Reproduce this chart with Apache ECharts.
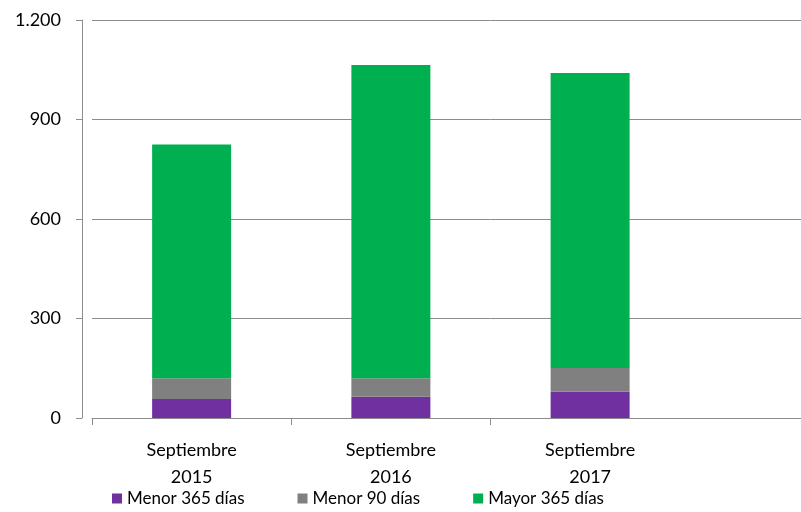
<!DOCTYPE html>
<html>
<head>
<meta charset="utf-8">
<script src="https://cdn.jsdelivr.net/npm/echarts@6/dist/echarts.min.js"></script>
<style>html,body{margin:0;padding:0;background:#fff;overflow:hidden;width:801px;height:512px;}#c{width:889px;height:512px;}</style>
</head>
<body>
<div id="c"></div>
<script>
const categories = ['Septiembre\n2015', 'Septiembre\n2016', 'Septiembre\n2017', ''];
const seriesNames = ['Menor 365 días', 'Menor 90 días', 'Mayor 365 días'];
const menor365 = [57, 64, 79];
const menor90 = [63, 56, 72];
const mayor365 = [705, 944, 889];
const yTicks = [0, 300, 600, 900, 1200];
const colors = ['#7030A0', '#808080', '#00B050'];

const chart = echarts.init(document.getElementById('c'), null, {renderer: 'canvas'});
const font = 'Lato, "Open Sans", sans-serif';
const mk = (name, data, color) => ({
  name: name, type: 'bar', stack: 'total', data: data, barWidth: 79,
  itemStyle: {color: color}
});
chart.setOption({
  animation: false,
  textStyle: {fontFamily: font},
  color: colors,
  grid: {left: 92, top: 20, right: 0, bottom: 94, containLabel: false},
  legend: {
    left: 112, top: 490, padding: 0, itemWidth: 10, itemHeight: 10, itemGap: 53,
    icon: 'rect',
    textStyle: {fontSize: 17, color: '#000', fontFamily: font},
    data: seriesNames
  },
  xAxis: {
    type: 'category', data: categories,
    axisLine: {lineStyle: {color: '#8c8c8c', width: 1}},
    axisTick: {show: true, length: 7, lineStyle: {color: '#8c8c8c', width: 1},
      interval: function (index) { return index <= 2; }},
    axisLabel: {fontSize: 18, color: '#000', lineHeight: 27, margin: 19, interval: 0, fontFamily: font}
  },
  yAxis: {
    type: 'value', min: yTicks[0], max: yTicks[yTicks.length-1], interval: 300,
    offset: 10,
    axisLine: {show: true, lineStyle: {color: '#8c8c8c'}},
    axisTick: {show: true, length: 6, lineStyle: {color: '#8c8c8c'}},
    splitLine: {lineStyle: {color: '#8c8c8c'}},
    axisLabel: {fontSize: 18, color: '#000', margin: 21, fontFamily: font,
      formatter: v => v.toString().replace(/\B(?=(\d{3})+(?!\d))/g, '.')}
  },
  series: [
    mk(seriesNames[0], menor365, colors[0]),
    mk(seriesNames[1], menor90, colors[1]),
    mk(seriesNames[2], mayor365, colors[2])
  ]
});
</script>
</body>
</html>
